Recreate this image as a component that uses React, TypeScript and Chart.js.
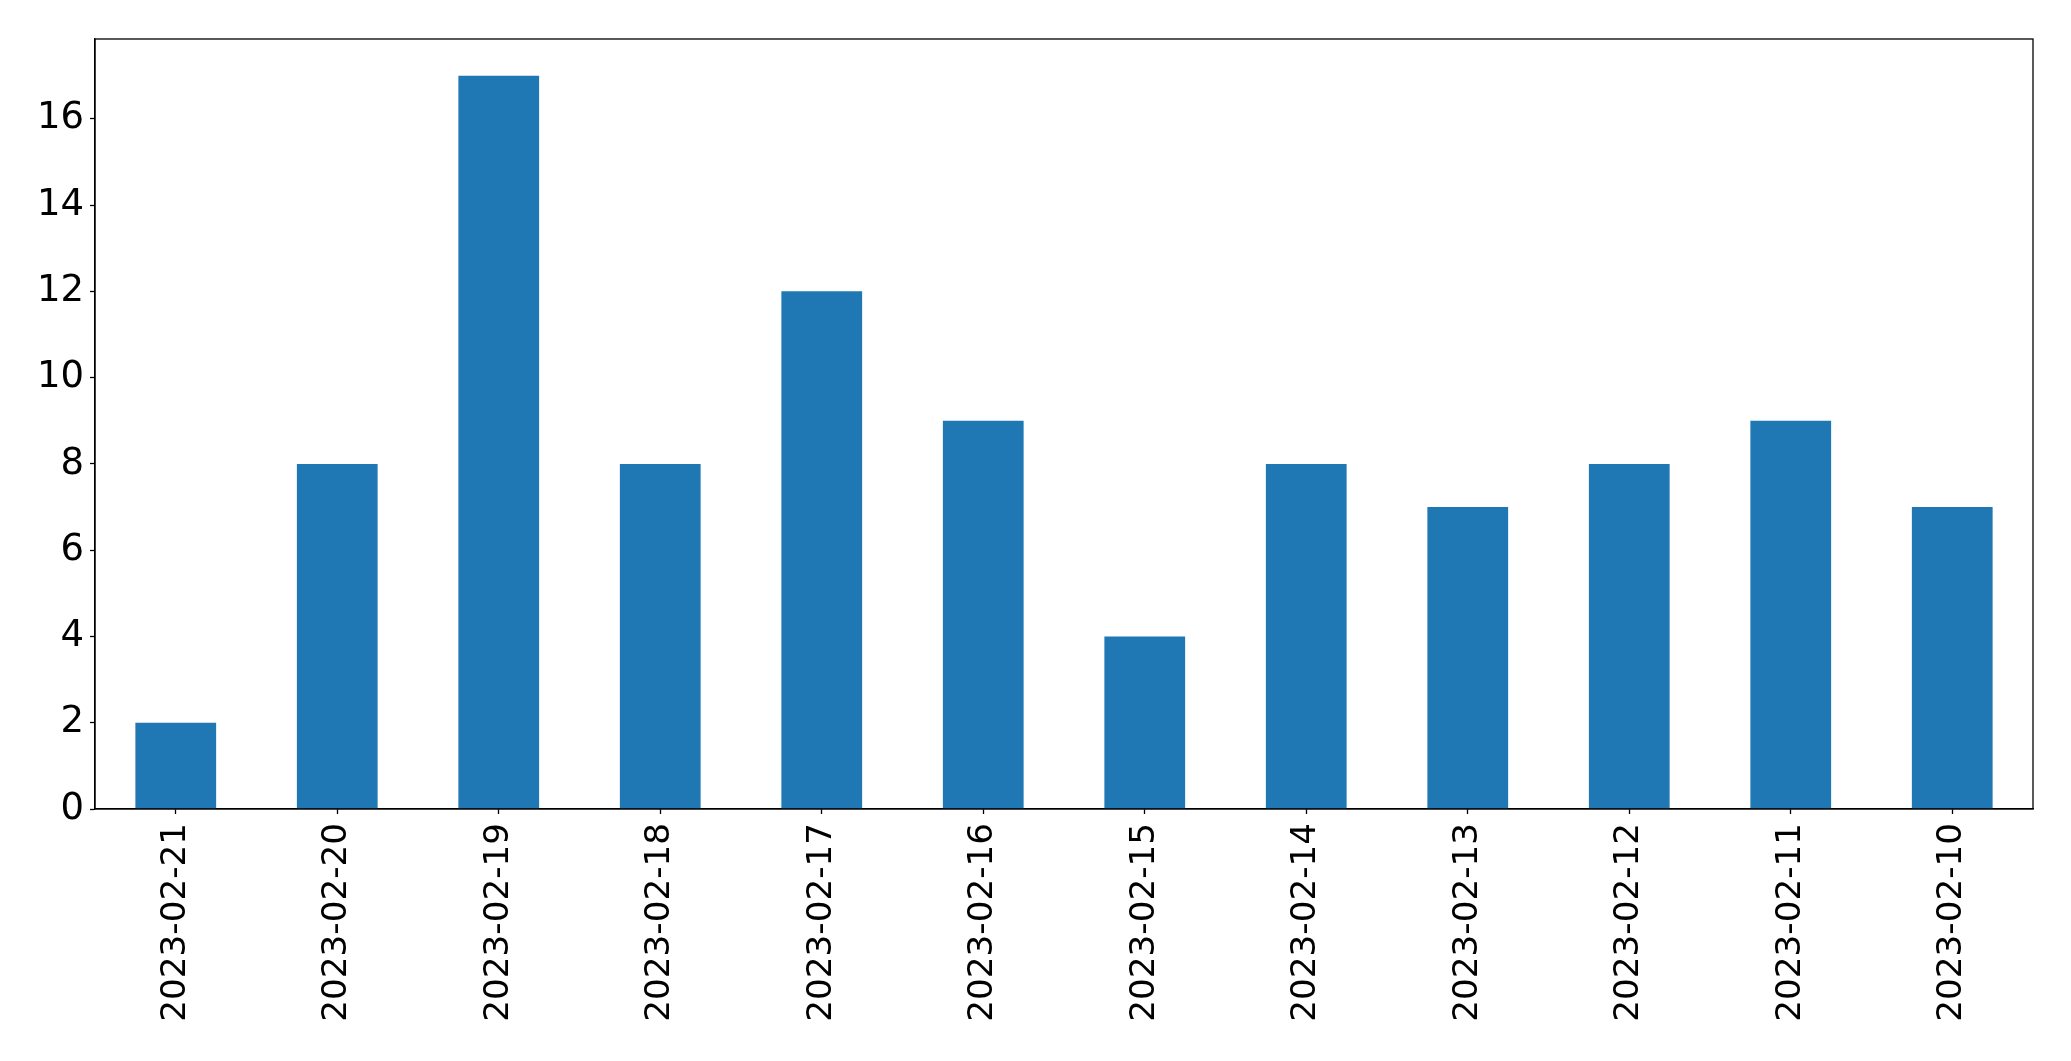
import React, { useEffect, useRef } from "react";
import { Chart, registerables } from "chart.js";

Chart.register(...registerables);

const categories = [
  "2023-02-21", "2023-02-20", "2023-02-19", "2023-02-18", "2023-02-17", "2023-02-16",
  "2023-02-15", "2023-02-14", "2023-02-13", "2023-02-12", "2023-02-11", "2023-02-10",
];
const counts = [2, 8, 17, 8, 12, 9, 4, 8, 7, 8, 9, 7];
const yTicks = [0, 2, 4, 6, 8, 10, 12, 14, 16];
const yMax = 17.85;

const W = 2071;
const H = 1061;

const framePlugin = {
  id: "frame",
  afterDraw(chart: any) {
    const { ctx, chartArea } = chart;
    ctx.save();
    ctx.strokeStyle = "#000";
    ctx.lineWidth = 1.3;
    ctx.strokeRect(chartArea.left, chartArea.top, chartArea.right - chartArea.left, chartArea.bottom - chartArea.top);
    ctx.restore();
  },
};

export default function App() {
  const ref = useRef<HTMLCanvasElement | null>(null);
  useEffect(() => {
    document.body.style.margin = "0";
    const xFont = { family: "'DejaVu Sans', sans-serif", size: 34.2 };
    const yFont = { family: "'DejaVu Sans', sans-serif", size: 37 };
    const chart = new Chart(ref.current!, {
      type: "bar",
      data: {
        labels: categories,
        datasets: [
          {
            data: counts,
            backgroundColor: "#1f77b4",
            barPercentage: 0.5,
            categoryPercentage: 1.0,
          },
        ],
      },
      options: {
        animation: false,
        responsive: false,
        maintainAspectRatio: false,
        layout: { padding: { top: 39, right: 38, left: 0, bottom: 0 } },
        plugins: { legend: { display: false }, tooltip: { enabled: false } },
        scales: {
          x: {
            grid: { display: true, offset: false, drawOnChartArea: false, drawTicks: true, tickLength: 5, tickColor: "#000", tickWidth: 1.3 },
            border: { display: true, color: "#000", width: 1.3 },
            ticks: { color: "#000", font: xFont, minRotation: 90, maxRotation: 90, padding: 9, autoSkip: false },
            afterFit(scale: any) {
              scale.height = 252;
            },
          },
          y: {
            min: 0,
            max: yMax,
            grid: { display: true, drawOnChartArea: false, drawTicks: true, tickLength: 5, tickColor: "#000", tickWidth: 1.3 },
            border: { display: true, color: "#000", width: 1.3 },
            ticks: { color: "#000", font: yFont, padding: 6 },
            afterBuildTicks(scale: any) {
              scale.ticks = yTicks.map((v) => ({ value: v }));
            },
            afterFit(scale: any) {
              scale.width = 95;
            },
          },
        },
      },
      plugins: [framePlugin],
    });
    return () => chart.destroy();
  }, []);
  return (
    <div style={{ position: "absolute", left: 0, top: 0, width: W, height: H, background: "#fff" }}>
      <canvas ref={ref} width={W} height={H} style={{ width: W, height: H, display: "block" }} />
    </div>
  );
}
